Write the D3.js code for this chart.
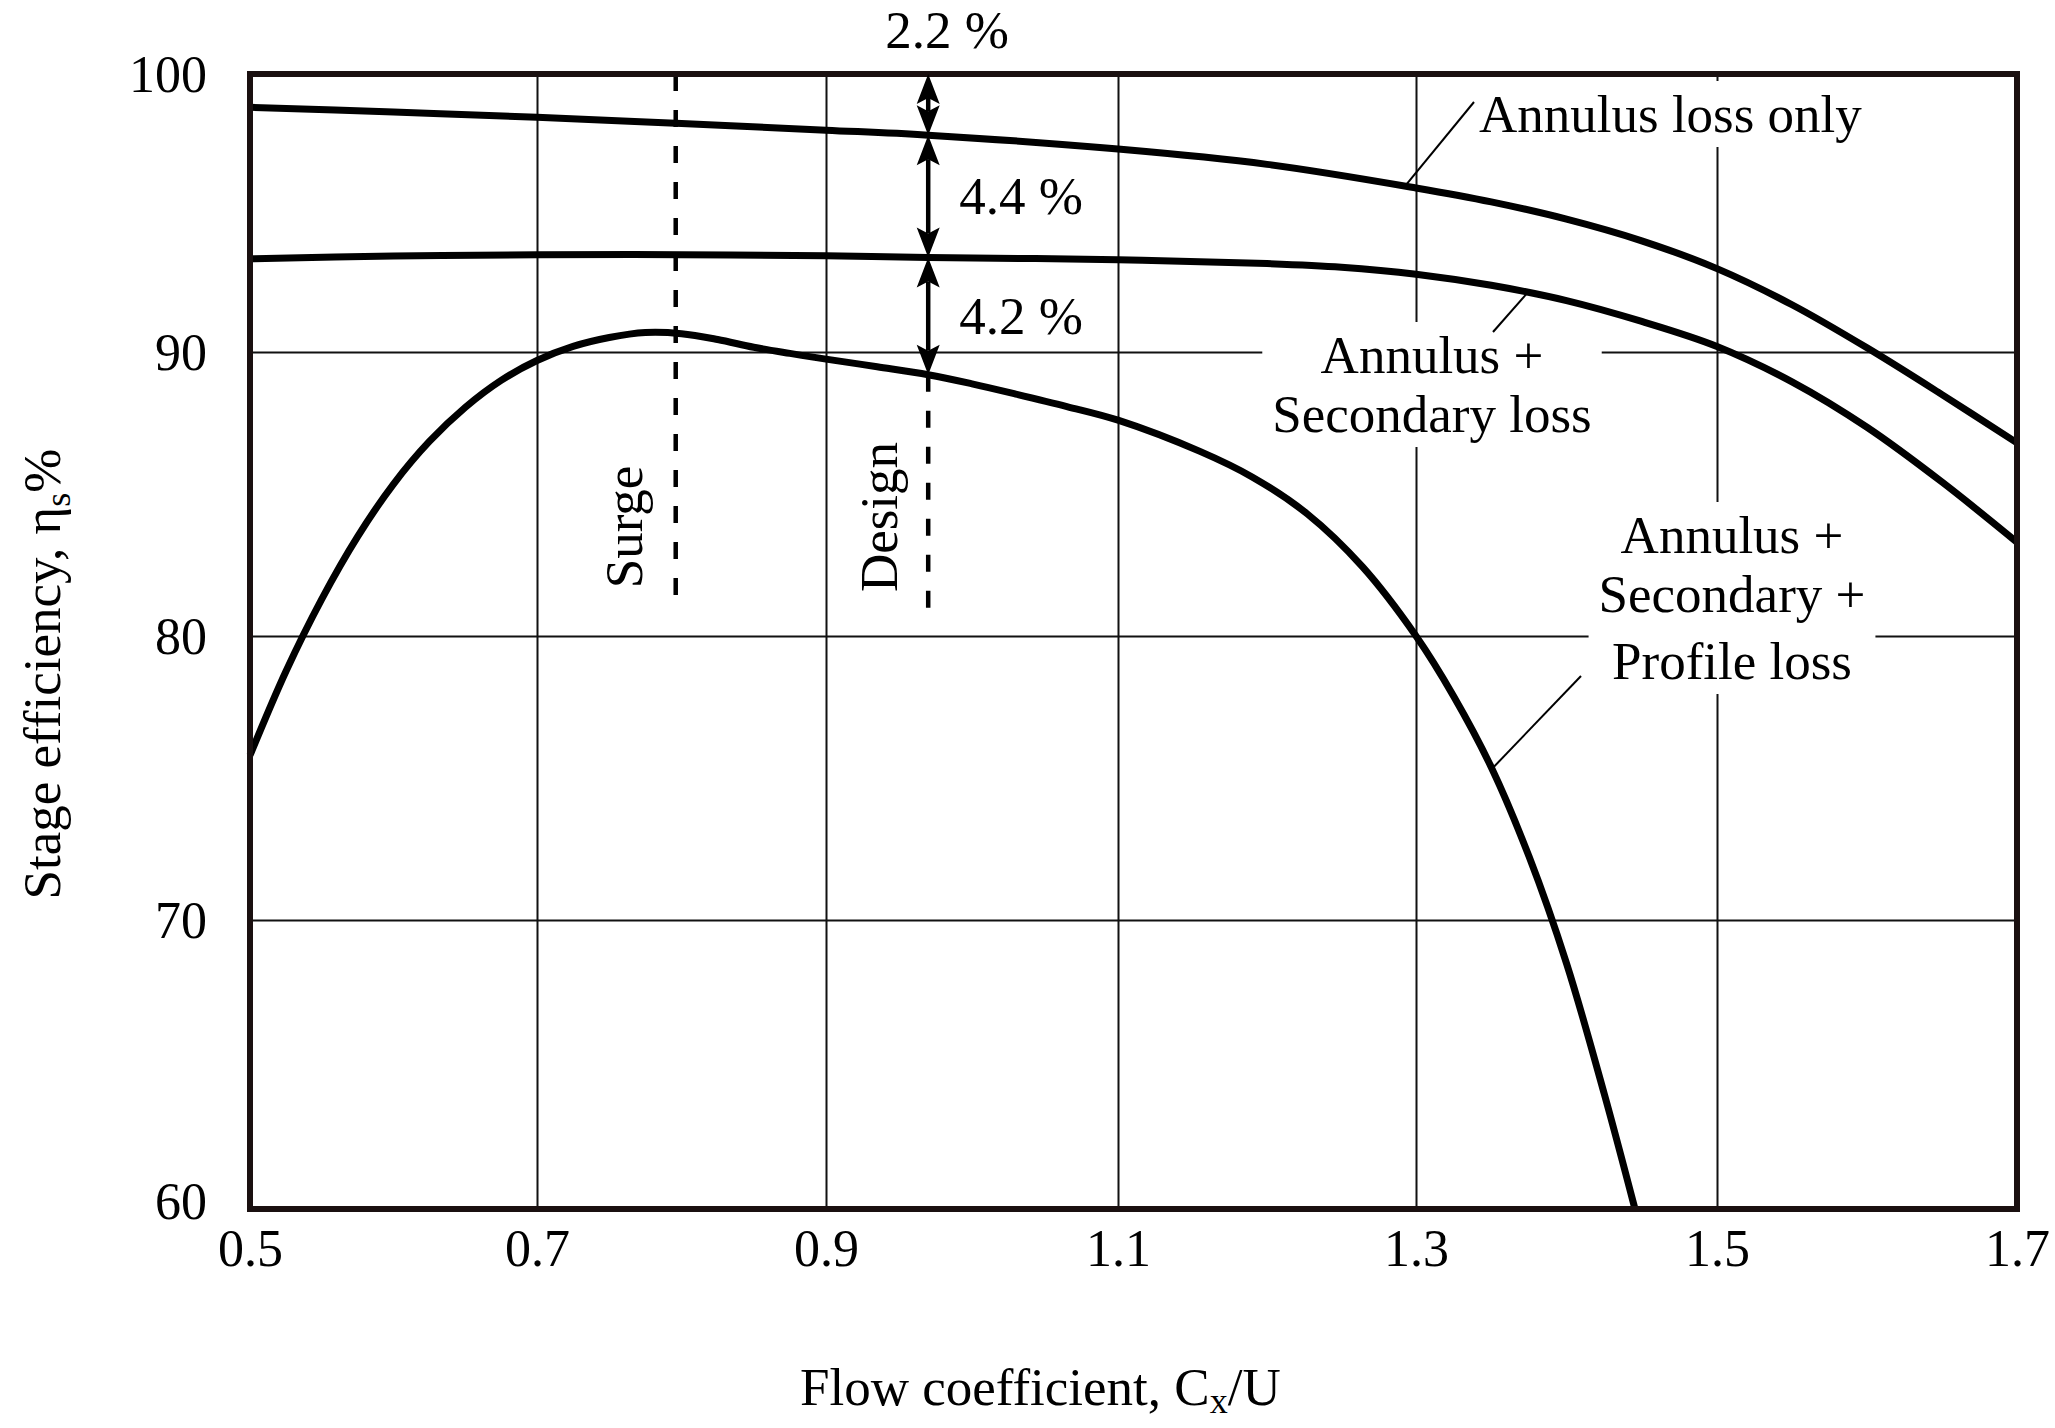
<!DOCTYPE html>
<html>
<head>
<meta charset="utf-8">
<script src="https://cdn.jsdelivr.net/npm/d3@7"></script>
<style>
  html, body { margin: 0; padding: 0; background: #fff; }
  svg { display: block; font-family: "Liberation Serif", "Times New Roman", serif; }
</style>
</head>
<body>
<svg id="chart" width="2055" height="1428"></svg>
<script>
// ---- axis ticks ----
const xTicks = [0.5, 0.7, 0.9, 1.1, 1.3, 1.5, 1.7];
const yTicks = [100, 90, 80, 70, 60];

// ---- stage efficiency curves (flow coefficient, efficiency %) ----
const annulusX   = [0.5, 0.6, 0.7, 0.8, 0.9, 0.97, 1.1, 1.2, 1.3, 1.35, 1.4, 1.45, 1.5, 1.55, 1.6, 1.65, 1.7];
const annulusEta = [98.8, 98.63, 98.44, 98.22, 97.98, 97.8, 97.3, 96.75, 95.9, 95.4, 94.78, 94.0, 93.0, 91.7, 90.15, 88.5, 86.8];

const secondaryX   = [0.5, 0.6, 0.7, 0.8, 0.9, 0.97, 1.1, 1.2, 1.25, 1.3, 1.35, 1.4, 1.45, 1.5, 1.55, 1.6, 1.65, 1.7];
const secondaryEta = [93.35, 93.45, 93.5, 93.5, 93.46, 93.4, 93.32, 93.18, 93.05, 92.8, 92.4, 91.85, 91.1, 90.2, 88.95, 87.35, 85.42, 83.3];

const profileX   = [0.5, 0.525, 0.55, 0.575, 0.6, 0.625, 0.65, 0.675, 0.7, 0.725, 0.75, 0.775, 0.8, 0.825, 0.85, 0.875, 0.9, 0.935, 0.97,
                    1.0, 1.03, 1.065, 1.1, 1.155, 1.19, 1.227, 1.264, 1.3, 1.325, 1.35, 1.375, 1.4, 1.425, 1.4455];
const profileEta = [75.8, 78.75, 81.3, 83.5, 85.35, 86.85, 88.05, 89.0, 89.7, 90.2, 90.52, 90.7, 90.66, 90.45, 90.17, 89.95, 89.75, 89.48, 89.2,
                    88.88, 88.52, 88.08, 87.6, 86.5, 85.6, 84.3, 82.44, 80.0, 77.88, 75.38, 72.25, 68.5, 64.0, 60.0];

// ---- operating points ----
const surgeFlow = 0.796;
const surgeEtaEnd = 81.3;
const designFlow = 0.97;
const designEtaEnd = 80.8;
// efficiency at the design point: frame top, then each curve
const designLevels = [100, 97.8, 93.4, 89.2];

const curveLabels = [
  ["Annulus loss only"],
  ["Annulus +", "Secondary loss"],
  ["Annulus +", "Secondary +", "Profile loss"]
];

// ---- layout ----
const svg = d3.select("#chart");
const FS = 53;
// the printed grid is slightly uneven, so each tick gets its own grid line
const x = d3.scaleLinear().domain(xTicks).range([250, 537, 826, 1118, 1416, 1717, 2017]);
const y = d3.scaleLinear().domain(yTicks).range([74, 352, 636, 920, 1209]);
const plotLeft = x(xTicks[0]), plotRight = x(xTicks[xTicks.length - 1]);
const plotTop = y(yTicks[0]), plotBottom = y(yTicks[yTicks.length - 1]);

const gridLayer = svg.append("g");
const maskLayer = svg.append("g");
const markLayer = svg.append("g");
const textLayer = svg.append("g");

// grid lines
gridLayer.append("g")
  .attr("transform", `translate(0,${plotBottom})`)
  .call(d3.axisBottom(x).tickValues(xTicks.slice(1, -1)).tickSize(-(plotBottom - plotTop)).tickFormat(""))
  .call(g => g.select(".domain").remove())
  .selectAll("line").attr("stroke", "#111").attr("stroke-width", 2);
gridLayer.append("g")
  .attr("transform", `translate(${plotLeft},0)`)
  .call(d3.axisLeft(y).tickValues(yTicks.slice(1, -1)).tickSize(-(plotRight - plotLeft)).tickFormat(""))
  .call(g => g.select(".domain").remove())
  .selectAll("line").attr("stroke", "#111").attr("stroke-width", 2);

// tick labels
svg.append("g")
  .attr("transform", `translate(0,${plotBottom})`)
  .call(d3.axisBottom(x).tickValues(xTicks).tickSize(0).tickFormat(d3.format(".1f")))
  .call(g => g.select(".domain").remove())
  .selectAll("text")
  .attr("y", 57).attr("dy", null)
  .attr("font-size", 52).attr("font-family", "Liberation Serif, Times New Roman, serif")
  .attr("fill", "#000");
svg.append("g")
  .attr("transform", `translate(${plotLeft},0)`)
  .call(d3.axisLeft(y).tickValues(yTicks).tickSize(0).tickFormat(d3.format("d")))
  .call(g => g.select(".domain").remove())
  .selectAll("text")
  .attr("x", -43)
  .attr("y", d => d === yTicks[yTicks.length - 1] ? -8 : 0)
  .attr("dy", "0.34em")
  .attr("font-size", 52).attr("font-family", "Liberation Serif, Times New Roman, serif")
  .attr("fill", "#000");

// surge and design markers
markLayer.append("line")
  .attr("x1", x(surgeFlow)).attr("x2", x(surgeFlow))
  .attr("y1", y(100)).attr("y2", y(surgeEtaEnd))
  .attr("stroke", "#000").attr("stroke-width", 4.5).attr("stroke-dasharray", "17,19");
markLayer.append("line")
  .attr("x1", x(designFlow)).attr("x2", x(designFlow))
  .attr("y1", y(designLevels[designLevels.length - 1])).attr("y2", y(designEtaEnd))
  .attr("stroke", "#000").attr("stroke-width", 4.5).attr("stroke-dasharray", "17,19");

// efficiency curves
const line = d3.line().x(d => x(d[0])).y(d => y(d[1])).curve(d3.curveCatmullRom.alpha(0.5));
const series = [d3.zip(annulusX, annulusEta), d3.zip(secondaryX, secondaryEta), d3.zip(profileX, profileEta)];
const curvePaths = markLayer.selectAll("path.curve").data(series).join("path")
  .attr("class", "curve")
  .attr("d", line)
  .attr("fill", "none").attr("stroke", "#000").attr("stroke-width", 7)
  .attr("stroke-linejoin", "round");

// frame
markLayer.append("rect")
  .attr("x", plotLeft).attr("y", plotTop)
  .attr("width", plotRight - plotLeft).attr("height", plotBottom - plotTop)
  .attr("fill", "none").attr("stroke", "#1a1010").attr("stroke-width", 6);

// loss increments at the design point
const ax = x(designFlow);
function arrowHead(px, tipY, dir) {
  const L = 30, hw = 11.5, notch = 24;
  return `M${px},${tipY} L${px - hw},${tipY - dir * L} L${px},${tipY - dir * notch} L${px + hw},${tipY - dir * L} Z`;
}
d3.pairs(designLevels).forEach(([hi, lo], i) => {
  const yA = y(hi), yB = y(lo);
  markLayer.append("line")
    .attr("x1", ax).attr("x2", ax).attr("y1", yA + 24).attr("y2", yB - 24)
    .attr("stroke", "#000").attr("stroke-width", 4.5);
  markLayer.append("path").attr("d", arrowHead(ax, yA, -1)).attr("fill", "#000");
  markLayer.append("path").attr("d", arrowHead(ax, yB, 1)).attr("fill", "#000");
  const label = `${(hi - lo).toFixed(1)} %`;
  if (i === 0) {
    textLayer.append("text").attr("x", ax + 19).attr("y", 48)
      .attr("text-anchor", "middle").attr("font-size", FS).text(label);
  } else {
    textLayer.append("text").attr("x", ax + 31).attr("y", (yA + yB) / 2)
      .attr("dy", "0.34em").attr("font-size", FS).text(label);
  }
});

// vertical marker labels
textLayer.append("text")
  .attr("transform", `translate(${x(surgeFlow) - 34},527) rotate(-90)`)
  .attr("text-anchor", "middle").attr("font-size", FS).text("Surge");
textLayer.append("text")
  .attr("transform", `translate(${x(designFlow) - 31},517) rotate(-90)`)
  .attr("text-anchor", "middle").attr("font-size", FS).text("Design");

// curve labels with leader lines
const labelPlacement = [
  { x: 1479, ys: [132], anchor: "start", leaderFrom: [1474, 102], leaderAtX: 1405 },
  { x: 1432, ys: [373, 432], anchor: "middle", leaderFrom: [1493, 332], leaderAtX: 1528 },
  { x: 1732, ys: [553, 612, 679], anchor: "middle", leaderFrom: [1581, 676], leaderAtX: 1492 }
];
function pointAtX(node, px) {
  let lo = 0, hi = node.getTotalLength();
  for (let k = 0; k < 40; k++) {
    const mid = (lo + hi) / 2;
    if (node.getPointAtLength(mid).x < px) lo = mid; else hi = mid;
  }
  return node.getPointAtLength((lo + hi) / 2);
}
curveLabels.forEach((lines, i) => {
  const p = labelPlacement[i];
  const t = textLayer.append("text").attr("text-anchor", p.anchor).attr("font-size", FS);
  lines.forEach((s, j) => t.append("tspan").attr("x", p.x).attr("y", p.ys[j]).text(s));
  const bb = t.node().getBBox();
  maskLayer.append("rect")
    .attr("x", bb.x - 10).attr("y", bb.y - 4)
    .attr("width", bb.width + 20).attr("height", bb.height + 8)
    .attr("fill", "#fff");
  const q = pointAtX(curvePaths.nodes()[i], p.leaderAtX);
  textLayer.append("line")
    .attr("x1", p.leaderFrom[0]).attr("y1", p.leaderFrom[1])
    .attr("x2", q.x).attr("y2", q.y)
    .attr("stroke", "#000").attr("stroke-width", 2);
});

// axis titles
const yTitle = textLayer.append("text")
  .attr("transform", "translate(60,674) rotate(-90)")
  .attr("text-anchor", "middle").attr("font-size", FS);
yTitle.append("tspan").text("Stage efficiency, η");
yTitle.append("tspan").attr("font-size", FS * 0.68).attr("dy", 10).text("s");
yTitle.append("tspan").attr("dy", -10).text("%");

const xTitle = textLayer.append("text")
  .attr("x", 800).attr("y", 1405).attr("font-size", FS);
xTitle.append("tspan").text("Flow coefficient, C");
xTitle.append("tspan").attr("font-size", FS * 0.68).attr("dy", 8).text("x");
xTitle.append("tspan").attr("dy", -8).text("/U");
</script>
</body>
</html>
